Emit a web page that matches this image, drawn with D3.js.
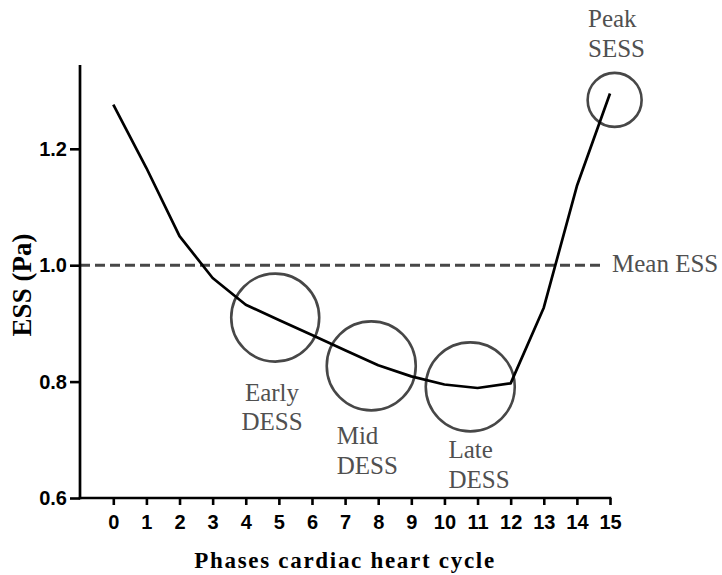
<!DOCTYPE html>
<html>
<head>
<meta charset="utf-8">
<script src="https://cdn.jsdelivr.net/npm/d3@7"></script>
<style>
  html, body { margin: 0; padding: 0; background: #fff; }
  svg { display: block; }
</style>
</head>
<body>
<svg id="chart" width="722" height="575"></svg>
<script>
// Phases of the cardiac cycle and the endothelial shear stress at each phase
const phases = [0, 1, 2, 3, 4, 5, 6, 7, 8, 9, 10, 11, 12, 13, 14, 15];
const essValues = [1.276, 1.167, 1.05, 0.978, 0.932, 0.906, 0.880, 0.854, 0.828, 0.809, 0.795, 0.789, 0.797, 0.927, 1.136, 1.295];
const yTickValues = [0.6, 0.8, 1.0, 1.2];
const meanESS = 1.0;

// Highlighted regions of the cycle (centre in phase / Pa)
const regionNames = ["Early DESS", "Mid DESS", "Late DESS", "Peak SESS"];
const regionPhase = [4.89, 7.79, 10.78, 15.14];
const regionESS = [0.910, 0.827, 0.791, 1.284];

const svg = d3.select("#chart");
const serif = "'Liberation Serif', 'Times New Roman', serif";
const sans = "'Liberation Sans', Arial, sans-serif";
const grey = "#474747";

const axisX = 80;
const x = d3.scaleLinear().domain([0, 15]).range([113.3, 610]);
const y = d3.scaleLinear().domain([0.6, 1.344]).range([498, 65]);

// Mean ESS reference line
svg.append("line")
  .attr("x1", axisX).attr("x2", 603)
  .attr("y1", y(meanESS)).attr("y2", y(meanESS))
  .attr("stroke", grey).attr("stroke-width", 3)
  .attr("stroke-dasharray", "10,5");

svg.append("text")
  .attr("x", 612).attr("y", y(meanESS) + 6.5)
  .attr("font-family", serif).attr("font-size", 25)
  .attr("fill", "#505050")
  .text("Mean ESS");

// Region circles
const radii = [44, 44.5, 44.5, 27];
svg.append("g").selectAll("circle")
  .data(regionNames)
  .join("circle")
  .attr("cx", (d, i) => x(regionPhase[i]))
  .attr("cy", (d, i) => y(regionESS[i]))
  .attr("r", (d, i) => radii[i])
  .attr("fill", "none")
  .attr("stroke", grey)
  .attr("stroke-width", 2.6);

// ESS curve
const line = d3.line()
  .x((d, i) => x(phases[i]))
  .y(d => y(d));
svg.append("path")
  .datum(essValues)
  .attr("d", line)
  .attr("fill", "none")
  .attr("stroke", "#000")
  .attr("stroke-width", 2.7)
  .attr("stroke-linejoin", "round");

// Region labels (two lines each)
const labelLayout = [
  { x: 272, y: 400.7, anchor: "middle" },
  { x: 336.7, y: 444.3, anchor: "start" },
  { x: 448.5, y: 458, anchor: "start" },
  { x: 588, y: 27.3, anchor: "start" }
];
regionNames.forEach((name, i) => {
  const L = labelLayout[i];
  const t = svg.append("text")
    .attr("font-family", serif).attr("font-size", 25)
    .attr("fill", "#505050")
    .attr("text-anchor", L.anchor);
  name.split(" ").forEach((w, j) => {
    t.append("tspan").attr("x", L.x).attr("y", L.y + j * 29.5).text(w);
  });
});

// Axes
const xAxis = d3.axisBottom(x).tickValues(phases).tickSize(7).tickSizeOuter(0).tickPadding(10);
const gx = svg.append("g").attr("transform", `translate(0,${y(0.6)})`).call(xAxis);
gx.select(".domain").remove();
gx.selectAll(".tick line").attr("stroke", "#000").attr("stroke-width", 2.6);
gx.selectAll(".tick text")
  .attr("font-family", sans).attr("font-size", 20).attr("font-weight", "bold")
  .attr("fill", "#000");

const yAxis = d3.axisLeft(y).tickValues(yTickValues).tickFormat(d3.format(".1f"))
  .tickSize(10).tickSizeOuter(0).tickPadding(3);
const gy = svg.append("g").attr("transform", `translate(${axisX},0)`).call(yAxis);
gy.select(".domain").remove();
gy.selectAll(".tick line").attr("stroke", "#000").attr("stroke-width", 2.6);
gy.selectAll(".tick text")
  .attr("font-family", sans).attr("font-size", 20).attr("font-weight", "bold")
  .attr("fill", "#000");

// Axis lines
svg.append("line")
  .attr("x1", axisX).attr("x2", axisX)
  .attr("y1", y.range()[1]).attr("y2", y(0.6) + 1.3)
  .attr("stroke", "#000").attr("stroke-width", 2.7);
svg.append("line")
  .attr("x1", axisX - 1.3).attr("x2", x(15) + 1.3)
  .attr("y1", y(0.6)).attr("y2", y(0.6))
  .attr("stroke", "#000").attr("stroke-width", 2.7);

// Axis titles
svg.append("text")
  .attr("x", 345).attr("y", 568)
  .attr("text-anchor", "middle")
  .attr("font-family", serif).attr("font-size", 23).attr("font-weight", "bold")
  .attr("letter-spacing", 1.7)
  .text("Phases cardiac heart cycle");

svg.append("text")
  .attr("transform", "translate(31,285) rotate(-90)")
  .attr("text-anchor", "middle")
  .attr("font-family", serif).attr("font-size", 27).attr("font-weight", "bold")
  .text("ESS (Pa)");
</script>
</body>
</html>
